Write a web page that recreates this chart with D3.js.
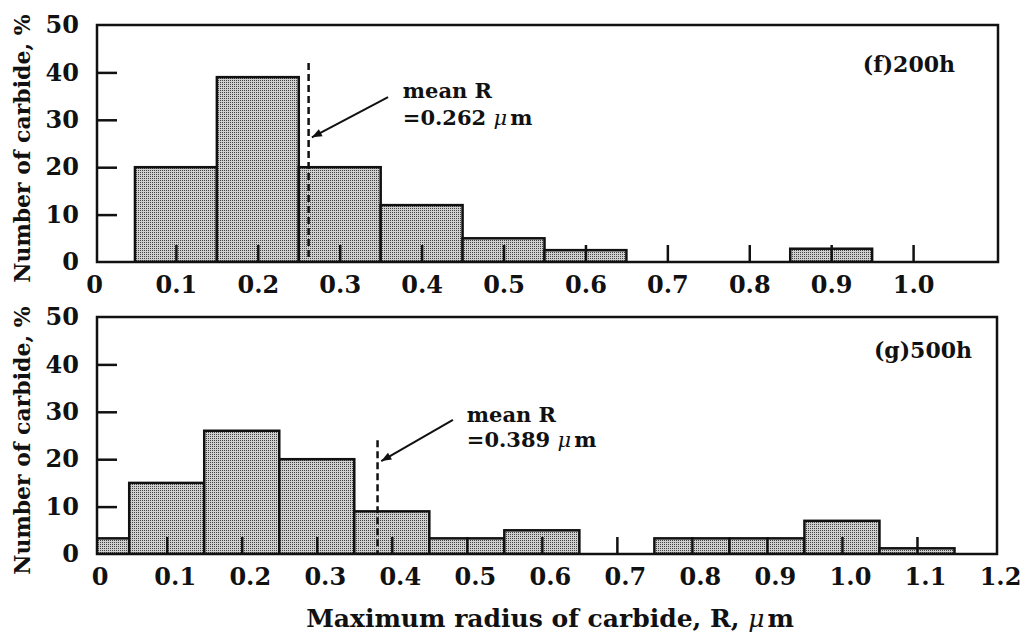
<!DOCTYPE html>
<html>
<head>
<meta charset="utf-8">
<script src="https://cdn.jsdelivr.net/npm/d3@7"></script>
<style>
  body { margin: 0; background: #fff; }
  text { font-family: "DejaVu Serif", serif; font-weight: bold; fill: #111; }
</style>
</head>
<body>
<div id="chart"></div>
<script>
// data
var binWidth = 0.1;
var binStarts200 = [0.05, 0.15, 0.25, 0.35, 0.45, 0.55, 0.65, 0.75, 0.85];
var values200 = [20, 39, 20, 12, 5, 2.5, 0, 0, 2.8];
var binStarts500 = [-0.05, 0.05, 0.15, 0.25, 0.35, 0.45, 0.55, 0.65, 0.75, 0.85, 0.95, 1.05];
var values500 = [3.3, 15, 26, 20, 9, 3.3, 5, 0, 3.3, 3.3, 7, 1.2];
var yTicks = [0, 10, 20, 30, 40, 50];
var xLabels200 = [0, 0.1, 0.2, 0.3, 0.4, 0.5, 0.6, 0.7, 0.8, 0.9, 1.0];
var xLabels500 = [0, 0.1, 0.2, 0.3, 0.4, 0.5, 0.6, 0.7, 0.8, 0.9, 1.0, 1.1, 1.2];
var meanPos200 = 0.262, meanPos500 = 0.381;
var meanText200 = "0.262", meanText500 = "0.389";

var width = 1027, height = 642;

var svg = d3.select("#chart")
    .append("svg")
    .attr("width", width)
    .attr("height", height);

var defs = svg.append("defs");
var pat = defs.append("pattern")
    .attr("id", "dots")
    .attr("patternUnits", "userSpaceOnUse")
    .attr("width", 2)
    .attr("height", 2);
pat.append("rect").attr("width", 2).attr("height", 2).attr("fill", "#cfcfcf");
pat.append("rect").attr("width", 1).attr("height", 1).attr("fill", "#444");

var panels = [
    { id: "p200", frame: { x0: 97, x1: 998, y0: 25, y1: 262 }, xDomain: [0, 1.1], xRange: [94, 995],
      starts: binStarts200, values: values200, labels: xLabels200, tickMax: 1.05, labelDx: 0,
      mean: meanPos200, meanTop: 42, meanText: meanText200,
      arrow: [[0.359, 34.8], [0.266, 26.3]], textAt: [0.377, 34.6, 28.8],
      tag: "(f)200h", tagX: 955, tagY: 72 },
    { id: "p500", frame: { x0: 97, x1: 997, y0: 317, y1: 554 }, xDomain: [0, 1.2], xRange: [91.7, 992],
      starts: binStarts500, values: values500, labels: xLabels500, tickMax: 1.15, labelDx: 8,
      mean: meanPos500, meanTop: 24, meanText: meanText500,
      arrow: [[0.4815, 28.3], [0.386, 19.6]], textAt: [0.50, 27.8, 22.5],
      tag: "(g)500h", tagX: 972, tagY: 358 }
];

// arrow head
defs.append("marker")
    .attr("id", "arrowhead")
    .attr("viewBox", "0 0 10 10")
    .attr("refX", 10).attr("refY", 5)
    .attr("markerWidth", 7).attr("markerHeight", 5)
    .attr("markerUnits", "strokeWidth")
    .attr("orient", "auto")
    .append("path")
    .attr("d", "M0,1 L10,5 L0,9 Z")
    .attr("fill", "#111");

panels.forEach(function (p) {
    var f = p.frame;
    var x = d3.scaleLinear().domain(p.xDomain).range(p.xRange);
    var y = d3.scaleLinear().domain([0, 50]).range([f.y1, f.y0]);
    var g = svg.append("g");

    defs.append("clipPath").attr("id", "clip-" + p.id)
        .append("rect")
        .attr("x", f.x0).attr("y", f.y0)
        .attr("width", f.x1 - f.x0).attr("height", f.y1 - f.y0);

    var bins = p.starts.map(function (s, i) { return { x0: s, x1: s + binWidth, v: p.values[i] }; })
        .filter(function (d) { return d.v > 0; });

    g.append("g")
        .attr("clip-path", "url(#clip-" + p.id + ")")
        .selectAll("rect")
        .data(bins)
        .enter()
        .append("rect")
        .attr("x", function (d) { return x(d.x0); })
        .attr("y", function (d) { return y(d.v); })
        .attr("width", function (d) { return x(d.x1) - x(d.x0); })
        .attr("height", function (d) { return y(0) - y(d.v); })
        .attr("fill", "url(#dots)")
        .attr("stroke", "#111")
        .attr("stroke-width", 2.5);

    // x axis: inward ticks + labels
    var xAxis = g.append("g")
        .attr("transform", "translate(0," + f.y1 + ")")
        .call(d3.axisBottom(x)
            .tickValues(p.labels)
            .tickSizeInner(-17)
            .tickSizeOuter(0)
            .tickPadding(14)
            .tickFormat(function (d) { return d === 0 ? "0" : d3.format(".1f")(d); }));
    xAxis.select(".domain").remove();
    xAxis.selectAll(".tick line")
        .attr("stroke", "#111")
        .attr("stroke-width", 2.5)
        .style("display", function (d) { return (d > 0 && d < p.tickMax) ? null : "none"; });
    xAxis.selectAll(".tick text")
        .attr("dx", p.labelDx)
        .style("font-size", "24px")
        .style("font-family", "'DejaVu Serif', serif")
        .style("font-weight", "bold")
        .attr("fill", "#111");

    // y axis
    var yAxis = g.append("g")
        .attr("transform", "translate(" + f.x0 + ",0)")
        .call(d3.axisLeft(y)
            .tickValues(yTicks)
            .tickSizeInner(-20)
            .tickSizeOuter(0)
            .tickPadding(18));
    yAxis.select(".domain").remove();
    yAxis.selectAll(".tick line")
        .attr("stroke", "#111")
        .attr("stroke-width", 2.5)
        .style("display", function (d) { return (d > 0 && d < 50) ? null : "none"; });
    yAxis.selectAll(".tick text")
        .style("font-size", "24px")
        .style("font-family", "'DejaVu Serif', serif")
        .style("font-weight", "bold")
        .attr("fill", "#111");

    // frame
    g.append("rect")
        .attr("x", f.x0).attr("y", f.y0)
        .attr("width", f.x1 - f.x0).attr("height", f.y1 - f.y0)
        .attr("fill", "none")
        .attr("stroke", "#111")
        .attr("stroke-width", 2.5);

    // mean line
    g.append("line")
        .attr("x1", x(p.mean)).attr("x2", x(p.mean))
        .attr("y1", y(p.meanTop)).attr("y2", y(0))
        .attr("stroke", "#111")
        .attr("stroke-width", 2.5)
        .attr("stroke-dasharray", "7,4");

    // arrow
    g.append("line")
        .attr("x1", x(p.arrow[0][0])).attr("y1", y(p.arrow[0][1]))
        .attr("x2", x(p.arrow[1][0])).attr("y2", y(p.arrow[1][1]))
        .attr("stroke", "#111")
        .attr("stroke-width", 2)
        .attr("marker-end", "url(#arrowhead)");

    g.append("text")
        .attr("x", x(p.textAt[0])).attr("y", y(p.textAt[1]))
        .style("font-size", "21px")
        .text("mean R");
    var t2 = g.append("text")
        .attr("x", x(p.textAt[0])).attr("y", y(p.textAt[2]))
        .style("font-size", "21px");
    t2.append("tspan").text("=" + p.meanText + " ");
    t2.append("tspan").style("font-style", "italic").style("font-weight", "normal").text("μ");
    t2.append("tspan").attr("dx", 3).text("m");

    g.append("text")
        .attr("x", p.tagX).attr("y", p.tagY)
        .attr("text-anchor", "end")
        .style("font-size", "22px")
        .text(p.tag);

    // y title
    g.append("text")
        .attr("transform", "translate(30," + ((f.y0 + f.y1) / 2 + 5) + ") rotate(-90)")
        .attr("text-anchor", "middle")
        .style("font-size", "22px")
        .text("Number of carbide, %");
});

var title = svg.append("text")
    .attr("x", 550).attr("y", 627)
    .attr("text-anchor", "middle")
    .style("font-size", "25px");
title.append("tspan").text("Maximum radius of carbide, R,  ");
title.append("tspan").style("font-style", "italic").style("font-weight", "normal").text("μ");
title.append("tspan").attr("dx", 3).text("m");
</script>
</body>
</html>
